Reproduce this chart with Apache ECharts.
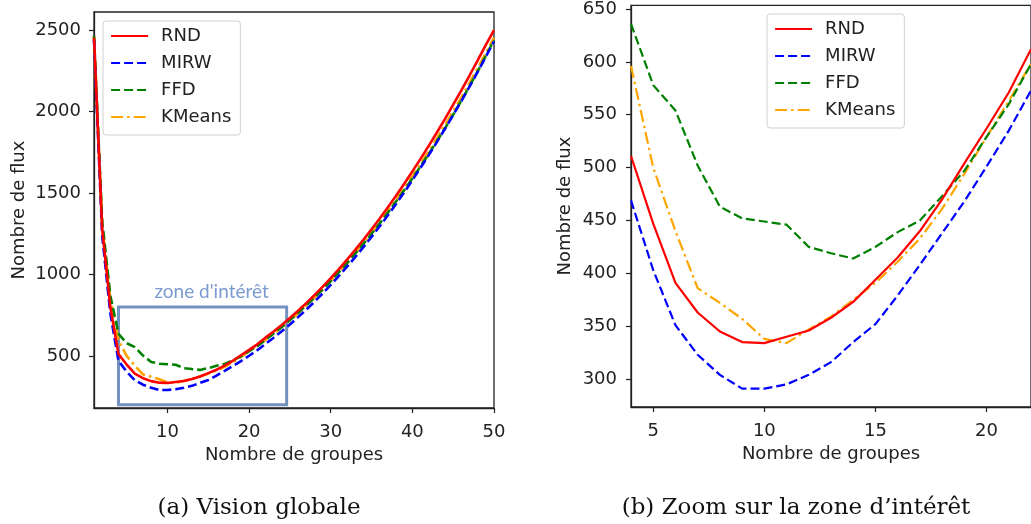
<!DOCTYPE html>
<html>
<head>
<meta charset="utf-8">
<script src="https://cdn.jsdelivr.net/npm/echarts@6/dist/echarts.min.js"></script>
<style>
html,body{margin:0;padding:0;background:#fff;}
#chart{width:1031px;height:524px;}
</style>
</head>
<body>
<div id="chart"></div>
<script>
// ---- data ----
const groups = [1,2,3,4,5,6,7,8,9,10,11,12,13,14,15,16,17,18,19,20,21,22,23,24,25,26,27,28,29,30,31,32,33,34,35,36,37,38,39,40,41,42,43,44,45,46,47,48,49,50];
const rnd = [2455,1280,800,511,447,391,363,345,335,334,340,346,358,373,394,415,440,470,504,537,571,612,650,690,733,777,824,873,924,978,1033,1091,1151,1213,1278,1344,1413,1484,1557,1633,1710,1790,1872,1956,2043,2131,2222,2315,2410,2500];
const mirw = [2440,1240,760,469,403,351,323,304,291,291,295,304,316,335,352,379,408,438,468,501,535,573,611,651,693,738,784,832,883,936,991,1048,1107,1168,1231,1296,1364,1433,1505,1579,1655,1733,1813,1895,1979,2065,2154,2244,2337,2432];
const ffd = [2465,1330,870,636,578,554,502,463,452,449,446,425,419,414,425,439,450,473,497,529,560,598,638,678,720,764,810,858,908,960,1014,1070,1128,1188,1250,1314,1380,1448,1518,1590,1664,1740,1818,1898,1981,2068,2156,2248,2343,2440];
const kmeans = [2460,1310,850,596,500,440,386,372,357,338,334,347,359,375,391,411,433,461,494,529,563,598,636,676,718,762,808,856,906,959,1014,1071,1130,1191,1254,1319,1387,1456,1528,1602,1678,1756,1836,1918,2002,2088,2177,2267,2360,2455];
const seriesNames = ['RND','MIRW','FFD','KMeans'];
const leftXTicks = [10,20,30,40,50];
const leftYTicks = [500,1000,1500,2000,2500];
const rightXTicks = [5,10,15,20];
const rightYTicks = [300,350,400,450,500,550,600,650];
const leftRange = {xmin:1, xmax:50, ymin:180, ymax:2612};
const rightRange = {xmin:4, xmax:22, ymin:273.6, ymax:653.5};
const zoneX = [4, 24.6];
const zoneY = [200, 800];
const zoneLabel = "zone d'intérêt";
const captions = ['(a) Vision globale', '(b) Zoom sur la zone d\u2019intérêt'];
const xTitle = 'Nombre de groupes';
const yTitle = 'Nombre de flux';

// ---- styles ----
const FONT = 'DejaVu Sans';
const FS = 18;
const TXT = '#222';
const styles = {
  RND:    {color:'#ff0000', type:'solid'},
  MIRW:   {color:'#0000ff', type:[9,4]},
  FFD:    {color:'#008000', type:[9,4]},
  KMeans: {color:'#ffa500', type:[12,4,2.5,4]}
};
const valuesByName = {RND:rnd, MIRW:mirw, FFD:ffd, KMeans:kmeans};

function pairs(arr, lo, hi){
  const out = [];
  groups.forEach((g,i)=>{ if (g>=lo && g<=hi) out.push([g, arr[i]]); });
  return out;
}

function xAxisDef(gridIndex, r, ticks){
  return {
    type:'value', gridIndex, min:r.xmin, max:r.xmax,
    name: xTitle, nameLocation:'middle', nameGap: 38,
    nameTextStyle:{fontFamily:FONT, fontSize:FS, color:TXT},
    axisLine:{show:true, onZero:false, lineStyle:{color:TXT, width:1.3}},
    axisTick:{show:true, length:5, customValues:ticks, lineStyle:{color:TXT, width:1.2}},
    axisLabel:{customValues:ticks, formatter:v=>String(v), fontFamily:FONT, fontSize:FS, color:TXT, margin:15},
    splitLine:{show:false}
  };
}
function yAxisDef(gridIndex, r, ticks, nameGap, margin){
  return {
    type:'value', gridIndex, min:r.ymin, max:r.ymax,
    name: yTitle, nameLocation:'middle', nameGap,
    nameTextStyle:{fontFamily:FONT, fontSize:FS, color:TXT},
    axisLine:{show:true, onZero:false, lineStyle:{color:TXT, width:1.3}},
    axisTick:{show:true, length:5, customValues:ticks, lineStyle:{color:TXT, width:1.2}},
    axisLabel:{customValues:ticks, formatter:v=>String(v), fontFamily:FONT, fontSize:FS, color:TXT, margin},
    splitLine:{show:false}
  };
}

const series = [];
[0,1].forEach(gi=>{
  const r = gi===0 ? leftRange : rightRange;
  const w = gi===0 ? 2.6 : 2.2;
  seriesNames.forEach((n, k)=>{
    series.push({
      name:n, type:'line', xAxisIndex:gi, yAxisIndex:gi,
      data: pairs(valuesByName[n], r.xmin, r.xmax),
      showSymbol:false, symbol:'none', smooth:false, clip:true,
      lineStyle:{color:styles[n].color, width:w, type:styles[n].type},
      itemStyle:{color:styles[n].color},
      z: 10 - k
    });
  });
});
// annotation rectangle on the left plot
series.push({
  name:'zone', type:'line', xAxisIndex:0, yAxisIndex:0, data:[], silent:true,
  markArea:{
    silent:true,
    itemStyle:{color:'rgba(0,0,0,0)', borderColor:'#7391bf', borderWidth:3},
    label:{show:true, position:'top', distance:4, offset:[9,0], color:'#7b9bd0', fontFamily:'Lato', fontSize:19},
    data:[[{name:zoneLabel, coord:[zoneX[0], zoneY[0]]},{coord:[zoneX[1], zoneY[1]]}]]
  }
});

function legendDef(left, top){
  return {
    orient:'vertical', left, top,
    data: seriesNames.map(n=>({name:n, itemStyle:{opacity:0}, lineStyle:{color:styles[n].color, width:2.2, type:styles[n].type}})),
    itemWidth:37, itemHeight:14, itemGap:9,
    padding:[6,9,9,7],
    backgroundColor:'rgba(255,255,255,0.85)',
    borderColor:'#d0d0d0', borderWidth:1, borderRadius:3,
    textStyle:{fontFamily:FONT, fontSize:FS, color:TXT, padding:[0,0,0,8]},
    selectedMode:false
  };
}

const chart = echarts.init(document.getElementById('chart'), null, {renderer:'canvas'});
chart.setOption({
  animation:false,
  backgroundColor:'#fff',
  grid:[
    {left:94, top:12, width:400, height:396, show:true, borderColor:TXT, borderWidth:1.3, backgroundColor:'transparent'},
    {left:631, top:5, width:405, height:402, show:true, borderColor:TXT, borderWidth:1.3, backgroundColor:'transparent'}
  ],
  xAxis:[ xAxisDef(0, leftRange, leftXTicks), xAxisDef(1, rightRange, rightXTicks) ],
  yAxis:[ yAxisDef(0, leftRange, leftYTicks, 66, 13), yAxisDef(1, rightRange, rightYTicks, 57, 14) ],
  legend:[ legendDef(103, 21), legendDef(767, 14) ],
  series,
  graphic:[
    {type:'text', x:259, y:508, style:{text:captions[0], fill:'#111', font:'23px "DejaVu Serif"', textAlign:'center', textVerticalAlign:'middle'}},
    {type:'text', x:796, y:508, style:{text:captions[1], fill:'#111', font:'23px "DejaVu Serif"', textAlign:'center', textVerticalAlign:'middle'}}
  ]
});
</script>
</body>
</html>
